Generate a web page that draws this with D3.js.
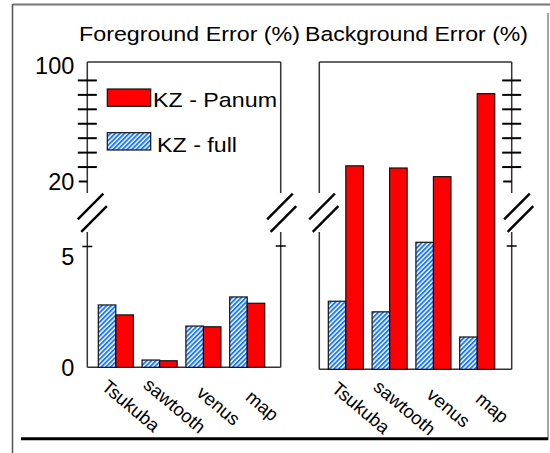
<!DOCTYPE html>
<html>
<head>
<meta charset="utf-8">
<script src="https://cdn.jsdelivr.net/npm/d3@7"></script>
<style>
  html, body { margin: 0; padding: 0; background: #fff; }
  svg { display: block; font-family: "Liberation Sans", Arial, sans-serif; }
</style>
</head>
<body>
<svg id="chart" width="550" height="453"></svg>
<script>
// ---- data ----
const categories = ["Tsukuba", "sawtooth", "venus", "map"];
const seriesNames = ["KZ - full", "KZ - Panum"];
const panelTitles = ["Foreground Error (%)", "Background Error (%)"];
const foregroundFull  = [2.57, 0.30, 1.70, 2.90];
const foregroundPanum = [2.16, 0.27, 1.67, 2.64];
const backgroundFull  = [2.76, 2.33, 5.15, 1.31];
const backgroundPanum = [30.5, 29.0, 23.0, 80.5];
const lowerTicks = [0, 5];
const upperTicks = [20, 30, 40, 50, 60, 70, 80, 90, 100];
const upperLabels = [20, 100];

// ---- layout ----
const svg = d3.select("#chart");
const RED = "#ff0000", BLUE = "#1a78ff";
const frameTop = 62, upperBottom = 193, lowerTop = 232;
const lowerMaxY = 246, upperRange = [181, 65.5];

// hatch used by the "full" series
const defs = svg.append("defs");
const pat = defs.append("pattern")
  .attr("id", "hatch").attr("patternUnits", "userSpaceOnUse")
  .attr("width", 3.3).attr("height", 10)
  .attr("patternTransform", "rotate(45)");
pat.append("rect").attr("width", 3.3).attr("height", 10).attr("fill", "#fff");
pat.append("rect").attr("width", 1.9).attr("height", 10).attr("fill", BLUE);

// outer frame of the figure
const frame = svg.append("g");
frame.append("line").attr("x1", 12.5).attr("x2", 550).attr("y1", 4.5).attr("y2", 4.5)
  .attr("stroke", "#777").attr("stroke-width", 2);
frame.append("line").attr("x1", 12.5).attr("x2", 12.5).attr("y1", 4).attr("y2", 453)
  .attr("stroke", "#555").attr("stroke-width", 1.5);
frame.append("line").attr("x1", 548).attr("x2", 548).attr("y1", 13).attr("y2", 440)
  .attr("stroke", "#888").attr("stroke-width", 1.5);
frame.append("line").attr("x1", 21).attr("x2", 548).attr("y1", 438.8).attr("y2", 438.8)
  .attr("stroke", "#000").attr("stroke-width", 3);

const panels = [
  { title: panelTitles[0], full: foregroundFull, panum: foregroundPanum,
    x0: 87.3, x1: 280.7, base: 367.3, barOffset: 11, ticksLeft: true,
    titleX: 79, titleLen: 221, lowTickLeft: true, lowTickRight: true,
    breakDx: [5, 1] },
  { title: panelTitles[1], full: backgroundFull, panum: backgroundPanum,
    x0: 319.3, x1: 511.7, base: 369.3, barOffset: 9, ticksLeft: false,
    titleX: 305, titleLen: 223, lowTickLeft: false, lowTickRight: true,
    breakDx: [4.5, 7] }
];

panels.forEach(p => {
  const g = svg.append("g");
  const yLow = d3.scaleLinear().domain([0, 5]).range([p.base, lowerMaxY]);
  const yHigh = d3.scaleLinear().domain([20, 100]).range(upperRange);
  const lowMax = yLow.invert(lowerTop);
  const yVal = v => v <= lowMax ? yLow(v) : yHigh(v);

  // title
  g.append("text").attr("x", p.titleX).attr("y", 40.7)
    .attr("font-size", 20.5).attr("textLength", p.titleLen)
    .attr("lengthAdjust", "spacingAndGlyphs").attr("fill", "#000")
    .text(p.title);

  // axis frame: upper box and lower box
  const axisStroke = { stroke: "#333", "stroke-width": 1.5 };
  const seg = (x1, y1, x2, y2, st) => {
    const l = g.append("line").attr("x1", x1).attr("y1", y1).attr("x2", x2).attr("y2", y2);
    Object.entries(st).forEach(([k, v]) => l.attr(k, v));
  };
  seg(p.x0, frameTop, p.x1, frameTop, axisStroke);
  seg(p.x0, frameTop, p.x0, upperBottom, axisStroke);
  seg(p.x1, frameTop, p.x1, upperBottom, axisStroke);
  seg(p.x0, lowerTop, p.x0, p.base, axisStroke);
  seg(p.x1, lowerTop, p.x1, p.base, axisStroke);
  seg(p.x0, p.base, p.x1, p.base, axisStroke);

  // upper tick column (cross ticks, short inward tick at 20)
  const tickX = p.ticksLeft ? p.x0 : p.x1;
  const upAxis = d3.axisLeft(yHigh).tickValues(upperTicks.filter(v => v < 100 || p.ticksLeft))
    .tickSize(9.5)
    .tickFormat(v => (p.ticksLeft && upperLabels.includes(v)) ? String(v) : "");
  const ua = g.append("g").attr("transform", `translate(${tickX},0)`).call(upAxis);
  ua.select(".domain").remove();
  ua.selectAll(".tick line")
    .attr("stroke", "#000").attr("stroke-width", 2)
    .attr("x1", d => d === 20 ? -8.5 : (d === 100 ? 0 : 9.5))
    .attr("x2", d => d === 20 ? 0 : (d === 100 ? 0 : -9.5));
  ua.selectAll(".tick text")
    .attr("x", -13).attr("dy", "0.36em")
    .attr("font-size", 23.5).attr("font-family", "Liberation Sans, Arial, sans-serif")
    .attr("fill", "#000");

  // lower ticks
  const lowAxis = d3.axisLeft(yLow).tickValues(lowerTicks).tickSize(5)
    .tickFormat(v => p.ticksLeft ? String(v) : "");
  const la = g.append("g").attr("transform", `translate(${p.x0},0)`).call(lowAxis);
  la.select(".domain").remove();
  la.selectAll(".tick line")
    .attr("stroke", "#000").attr("stroke-width", 1.5)
    .attr("x1", d => (d === 5 && p.lowTickLeft) ? 5 : 0)
    .attr("x2", d => (d === 5 && p.lowTickLeft) ? -5 : 0);
  la.selectAll(".tick text")
    .attr("x", -13)
    // the top label of the lower segment hangs just below its tick
    .attr("dy", d => d === 5 ? "0.8em" : "0.34em")
    .attr("font-size", 23.5).attr("font-family", "Liberation Sans, Arial, sans-serif")
    .attr("fill", "#000");
  if (p.lowTickRight) {
    g.append("line").attr("x1", p.x1 - 5).attr("x2", p.x1 + 5)
      .attr("y1", yLow(5)).attr("y2", yLow(5))
      .attr("stroke", "#000").attr("stroke-width", 1.5);
  }

  // bars
  const step = 43.8;
  const x = d3.scaleBand().domain(categories)
    .range([p.x0 + p.barOffset, p.x0 + p.barOffset + step * 3.8])
    .paddingInner(0.2).paddingOuter(0);
  const xs = d3.scaleBand().domain(seriesNames).range([0, x.bandwidth()]);
  const rows = categories.map((c, i) => ({ cat: c, values: [p.full[i], p.panum[i]] }));
  const groups = g.selectAll("g.grp").data(rows).join("g").attr("class", "grp")
    .attr("transform", d => `translate(${x(d.cat)},0)`);
  groups.selectAll("rect").data(d => d.values.map((v, j) => ({ s: seriesNames[j], v })))
    .join("rect")
    .attr("x", d => xs(d.s))
    .attr("width", xs.bandwidth())
    .attr("y", d => yVal(d.v))
    .attr("height", d => p.base - yVal(d.v))
    .attr("fill", d => d.s === seriesNames[0] ? "url(#hatch)" : RED)
    .attr("stroke", "#111").attr("stroke-width", 1.2);

  // category labels
  g.selectAll("text.cat").data(categories).join("text").attr("class", "cat")
    .attr("text-anchor", "middle").attr("font-size", 18.5).attr("fill", "#000")
    .attr("transform", d => `translate(${x(d) + x.bandwidth() / 2 + 11},${p.base + 43.3}) rotate(40)`)
    .text(d => d);

  // axis break marks
  [p.x0 + p.breakDx[0], p.x1 + p.breakDx[1]].forEach(cx => {
    [[-1.75, 206.5], [1.75, 219]].forEach(([dx, cy]) => {
      g.append("line")
        .attr("x1", cx + dx - 12.8).attr("y1", cy + 12.8)
        .attr("x2", cx + dx + 12.8).attr("y2", cy - 12.8)
        .attr("stroke", "#000").attr("stroke-width", 2.4);
    });
  });
});

// legend
const legend = svg.append("g");
const legendItems = [
  { name: seriesNames[1], fill: RED, y: 89, textX: 153, base: 106.7, len: 124 },
  { name: seriesNames[0], fill: "url(#hatch)", y: 132.7, textX: 157, base: 151.5, len: 80 }
];
legendItems.forEach(it => {
  legend.append("rect").attr("x", 107.3).attr("y", it.y).attr("width", 43.4).attr("height", 17.3)
    .attr("fill", it.fill).attr("stroke", "#111").attr("stroke-width", 1.2);
  legend.append("text").attr("x", it.textX).attr("y", it.base)
    .attr("font-size", 21).attr("textLength", it.len).attr("lengthAdjust", "spacingAndGlyphs")
    .attr("fill", "#000").text(it.name);
});
</script>
</body>
</html>
